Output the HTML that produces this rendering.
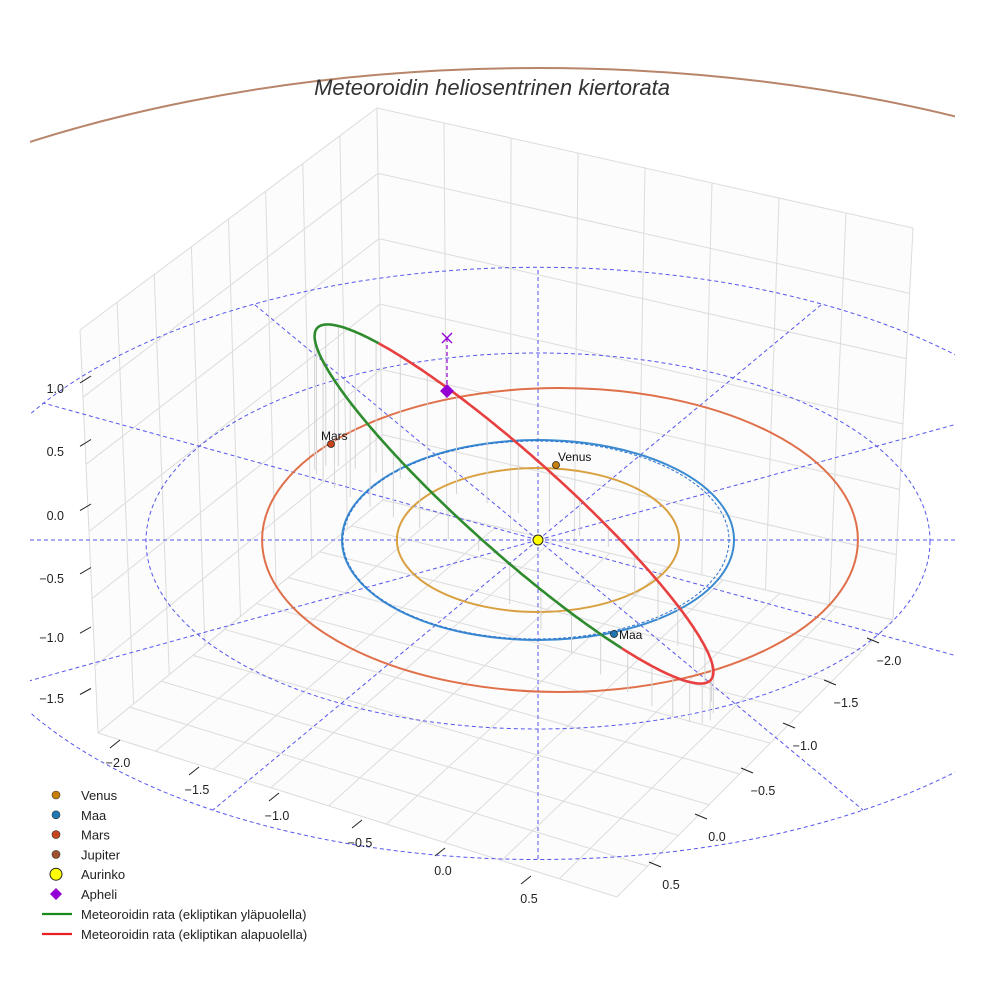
<!DOCTYPE html>
<html><head><meta charset="utf-8"><style>
html,body{margin:0;padding:0;background:#fff}
svg{display:block;font-family:"Liberation Sans",sans-serif}
</style></head><body>
<svg id="chart" width="984" height="984" viewBox="0 0 984 984" xmlns="http://www.w3.org/2000/svg">
<defs>
<clipPath id="clipAx"><rect x="30" y="0" width="925" height="984"/></clipPath>
<clipPath id="clipTop"><rect x="30" y="0" width="925" height="200"/></clipPath>
</defs>
<rect width="984" height="984" fill="#fff"/>
<g id="grid"></g>
<g id="guides"></g>
<g id="orbits"></g>
<g id="meteor"></g>
<g id="marks"></g>
<g id="axes"></g>
<text x="492" y="95" text-anchor="middle" font-size="22" font-style="italic" fill="#333">Meteoroidin heliosentrinen kiertorata</text>
<g id="legend"></g>
</svg>
<script>
// ---- data ----
const planetNames = ["Venus","Maa","Mars","Jupiter"];
const planetRadii = [0.72, 1.0, 1.52, 5.2];
const planetColors = ["#d9a040","#3a8ad0","#e0704a","#b8846a"];
const markerColors = ["#c87f0a","#1f77b4","#c8441a","#a0522d"];
const guideRings = [2, 3];
const guideAngles = [0, 30, 60, 90, 120, 150, 180, 210, 240, 270, 300, 330];
const zTicks = ["1.0","0.5","0.0","\u22120.5","\u22121.0","\u22121.5"];
const xTicks = ["\u22122.0","\u22121.5","\u22121.0","\u22120.5","0.0","0.5"];
const yTicks = ["\u22122.0","\u22121.5","\u22121.0","\u22120.5","0.0","0.5"];
const legendLabels = ["Venus","Maa","Mars","Jupiter","Aurinko","Apheli"];
const lineLabels = ["Meteoroidin rata (ekliptikan yläpuolella)","Meteoroidin rata (ekliptikan alapuolella)"];

const NS="http://www.w3.org/2000/svg";
function mk(tag, attrs, parent){const e=document.createElementNS(NS,tag);for(const k in attrs)e.setAttribute(k,attrs[k]);parent.appendChild(e);return e;}
const CX=538, CY=540;
function ringGeom(r){
  if(r>4) return {cx:538, cy:540, rx:945*r/5.2, ry:472*r/5.2};
  const dy = r>2.5 ? 23.4 : (r>1.6 ? 1 : 0);
  const ky = r>1.6 ? (r>2.5?98.7:94) : 100;
  return {cx:CX+(r>1.4&&r<1.6?22:0), cy:CY+dy, rx:196*r, ry:ky*r};
}
function ringPt(r, deg){const g=ringGeom(r);const a=deg*Math.PI/180;return [g.cx+g.rx*Math.cos(a), g.cy+g.ry*Math.sin(a)];}
function lerp(a,b,t){return [a[0]+(b[0]-a[0])*t,a[1]+(b[1]-a[1])*t];}
function bil(q,u,v){return lerp(lerp(q[0],q[1],u),lerp(q[3],q[2],u),v);}

// ---- grid (box panes) ----
const G=document.getElementById('grid');
const leftWall=[[80,330],[377,108],[383,500],[98,733]];
const rightWall=[[377,108],[913,228],[893,620],[383,500]];
const floor=[[98,733],[383,500],[893,620],[617,897]];
[leftWall,rightWall,floor].forEach((q,qi)=>{
  const p=mk('polygon',{points:q.map(p=>p.join(',')).join(' '),fill:'#fcfcfc',stroke:'none'},G);
  
  
  const n=qi==2?9:8;
  for(let i=0;i<=n;i++){
    const u=i/n;
    let a=bil(q,u,0),b=bil(q,u,1);
    const l=mk('line',{x1:a[0],y1:a[1],x2:b[0],y2:b[1],stroke:'#dcdcdc','stroke-width':1},G);
    
    
  }
  const m=qi==2?9:6;
  for(let i=0;i<=m;i++){
    const v=i/m;
    let a=bil(q,0,v),b=bil(q,1,v);
    const l=mk('line',{x1:a[0],y1:a[1],x2:b[0],y2:b[1],stroke:'#dcdcdc','stroke-width':1},G);
    
    
  }
});

// ---- ecliptic guides ----
const GD=document.getElementById('guides');
guideRings.forEach(r=>{
  const g=ringGeom(r);
  const e=mk('ellipse',{cx:g.cx,cy:g.cy,rx:g.rx,ry:g.ry,fill:'none',stroke:'#5555ee','stroke-width':1,'stroke-dasharray':'4,3','clip-path':'url(#clipAx)'},GD);
  
  
});
const outer=ringGeom(guideRings[guideRings.length-1]);
guideAngles.forEach(a=>{
  const rad=a*Math.PI/180;
  let dx=Math.cos(rad)*392, dy=Math.sin(rad)*188;
  let lo=0, hi=10;
  for(let k=0;k<40;k++){const m=(lo+hi)/2;const x=CX+dx*m,y=CY+dy*m;
    const v=Math.pow((x-outer.cx)/outer.rx,2)+Math.pow((y-outer.cy)/outer.ry,2); if(v<1)lo=m; else hi=m;}
  let ex=CX+dx*lo, ey=CY+dy*lo;
  if(ex<30){const t=(30-CX)/dx; ex=30; ey=CY+dy*t;}
  if(ex>955){const t=(955-CX)/dx; ex=955; ey=CY+dy*t;}
  const l=mk('line',{x1:CX,y1:CY,x2:ex,y2:ey,stroke:'#5555ee','stroke-width':1,'stroke-dasharray':'4,3'},GD);
  
  
});

// ---- planet orbits ----
const O=document.getElementById('orbits');
planetRadii.forEach((r,i)=>{
  const g=ringGeom(r);
  const e=mk('ellipse',{cx:g.cx,cy:g.cy,rx:g.rx,ry:g.ry,fill:'none',stroke:planetColors[i],'stroke-width':2,'clip-path':r>4?'url(#clipTop)':'url(#clipAx)'},O);
  
  
});
{const g=ringGeom(1);const e=mk('ellipse',{cx:g.cx-2,cy:g.cy,rx:g.rx-3,ry:g.ry-1,fill:'none',stroke:'#2a6fd0','stroke-width':1,'stroke-dasharray':'3,2'},O);
}

// ---- meteoroid orbit ----
const M=document.getElementById('meteor');
const mc=[514,504], ma=264, mb=48, ang=41.8*Math.PI/180;
const ux=[Math.cos(ang),Math.sin(ang)], vx=[-Math.sin(ang),Math.cos(ang)];
function mp(tdeg){const t=tdeg*Math.PI/180;const A=ma*Math.cos(t),B=mb*Math.sin(t);return [mc[0]+A*ux[0]+B*vx[0], mc[1]+A*ux[1]+B*vx[1]];}
for(let t=-170;t<=180;t+=9){
  const p=mp(t);const len=Math.max(10,(p[1]<540?(560-p[1])*0.6:40));
  const l=mk('line',{x1:p[0],y1:p[1],x2:p[0],y2:p[1]+len,stroke:'#d4d4d4','stroke-width':1},M);
  
  
}
function seg(a,b,col,name){let d='';for(let t=a;(a>b?t>=b:t<=b);t+=(a>b?-1:1)){const p=mp(t);d+=(d?'L':'M')+p[0].toFixed(1)+','+p[1].toFixed(1);}
  const p=mk('path',{d:d,fill:'none',stroke:col,'stroke-width':2.6},M);}
seg(218,48,'#2e8b2e','orbit-above-ecliptic');
seg(48,-142,'#e84040','orbit-below-ecliptic');

// ---- bodies ----
const K=document.getElementById('marks');
planetNames.forEach((n,i)=>{
  if(i==3) return;
  const pos=[[556,465],[614,634],[331,444]][i];
  const c=mk('circle',{cx:pos[0],cy:pos[1],r:3.5,fill:markerColors[i],stroke:'#222','stroke-width':0.8},K);
  
  
  const t=mk('text',{x:pos[0]+(i==2?-10:i==1?5:2),y:pos[1]+(i==1?5:-4),'font-size':12,fill:'#111'},K);
  t.textContent=n;
  
  
});
{const c=mk('circle',{cx:CX,cy:CY,r:5,fill:'#ffff00',stroke:'#222','stroke-width':1},K);
 const l=mk('line',{x1:447,y1:338,x2:447,y2:391,stroke:'#9400d3','stroke-width':1.2,'stroke-dasharray':'4,3'},K);
 const x=mk('path',{d:'M442,333L452,343M452,333L442,343',stroke:'#9400d3','stroke-width':1.3,fill:'none'},K);
 const d=mk('polygon',{points:'447,384 454,391 447,398 440,391',fill:'#9400d3'},K);}

// ---- axes ----
const AX=document.getElementById('axes');
zTicks.forEach((s,i)=>{
  const y=[388,451,515,578,637,698][i];
  const t=mk('text',{x:64,y:y+5,'font-size':12.5,fill:'#222','text-anchor':'end'},AX);t.textContent=s;
  
  const l=mk('line',{x1:80,y1:y-5+i*0.3,x2:91,y2:y-12+i*0.5,stroke:'#222','stroke-width':1},AX);
  
});
xTicks.forEach((s,i)=>{
  const p=[[118,762],[197,789],[277,815],[360,842],[443,870],[529,898]][i];
  const t=mk('text',{x:p[0],y:p[1]+5,'font-size':12.5,fill:'#222','text-anchor':'middle'},AX);t.textContent=s;
  
  const l=mk('line',{x1:p[0]-8,y1:p[1]-14,x2:p[0]+2,y2:p[1]-22,stroke:'#222','stroke-width':1},AX);
  
});
yTicks.forEach((s,i)=>{
  const p=[[889,660],[846,702],[805,745],[763,790],[717,836],[671,884]][i];
  const t=mk('text',{x:p[0],y:p[1]+5,'font-size':12.5,fill:'#222','text-anchor':'middle'},AX);t.textContent=s;
  
  const l=mk('line',{x1:p[0]-22,y1:p[1]-22,x2:p[0]-10,y2:p[1]-17,stroke:'#222','stroke-width':1},AX);
  
});

// ---- legend ----
const L=document.getElementById('legend');
legendLabels.forEach((s,i)=>{
  const y=795+i*19.8;
  let m;
  if(i<4){m=mk('circle',{cx:56,cy:y,r:4,fill:markerColors[i],stroke:'#333','stroke-width':0.6},L);}
  else if(i==4){m=mk('circle',{cx:56,cy:y,r:6,fill:'#ffff00',stroke:'#222','stroke-width':1},L);}
  else {m=mk('polygon',{points:`56,${y-6} 62,${y} 56,${y+6} 50,${y}`,fill:'#9400d3'},L);}
  
  const t=mk('text',{x:81,y:y+5,'font-size':13,fill:'#222'},L);t.textContent=s;
  
});
lineLabels.forEach((s,i)=>{
  const y=914+i*20;
  const l=mk('line',{x1:42,y1:y,x2:72,y2:y,stroke:i?'#e82020':'#1a8a1a','stroke-width':2.2},L);
  
  const t=mk('text',{x:81,y:y+5,'font-size':13,fill:'#222'},L);t.textContent=s;
  
});
</script>
</body></html>
